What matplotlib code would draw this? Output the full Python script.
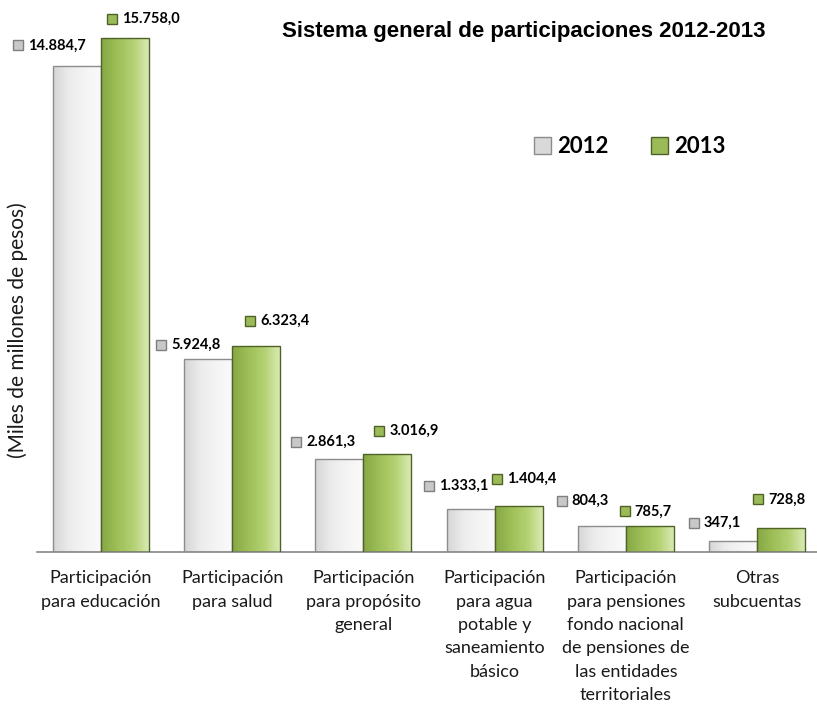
import numpy as np
import matplotlib
matplotlib.use("Agg")
import matplotlib.pyplot as plt
from matplotlib.colors import LinearSegmentedColormap
from matplotlib.patches import Patch
from matplotlib.transforms import offset_copy

# datos (miles de millones de pesos)
categorias = [
    "Participación\npara educación",
    "Participación\npara salud",
    "Participación\npara propósito\ngeneral",
    "Participación\npara agua\npotable y\nsaneamiento\nbásico",
    "Participación\npara pensiones\nfondo nacional\nde pensiones de\nlas entidades\nterritoriales",
    "Otras\nsubcuentas",
]
valores_2012 = [14884.7, 5924.8, 2861.3, 1333.1, 804.3, 347.1]
valores_2013 = [15758.0, 6323.4, 3016.9, 1404.4, 785.7, 728.8]
series = ["2012", "2013"]

# desplazamiento de las etiquetas (pixeles, desde la esquina sup. izq. de cada barra)
dx_2012 = [-35, -23, -19, -18, -16, -15]
dy_2012 = [21, 14, 17, 23, 25, 18]
dx_2013 = [11, 18, 16, 2, -1, 1]
dy_2013 = [19, 25, 23, 27, 15, 29]

font = "Lato"
gris_cmap = LinearSegmentedColormap.from_list("gris", ["#d6d6d6", "#ececec", "#f4f4f4", "#fafafa"])
verde_cmap = LinearSegmentedColormap.from_list("verde", ["#86a843", "#9ebf58", "#b4d173", "#dbebb6"])


def formato(v):
    s = f"{v:,.1f}"
    return s.replace(",", "X").replace(".", ",").replace("X", ".")


fig = plt.figure(figsize=(8.17, 7.06), dpi=100)
ax = fig.add_axes([0.0453, 0.218, 0.9547, 0.782])

x = np.arange(len(categorias))
w = 0.366
b1 = ax.bar(x - w / 2, valores_2012, w, color="#ececec", edgecolor="#8c8c8c", linewidth=1, zorder=2)
b2 = ax.bar(x + w / 2, valores_2013, w, color="#9bbb59", edgecolor="#4f6228", linewidth=1, zorder=2)

# degradado dentro de cada barra
grad = np.linspace(0, 1, 64).reshape(1, -1)
for bars, cmap in [(b1, gris_cmap), (b2, verde_cmap)]:
    for r in bars:
        x0, y0 = r.get_x(), r.get_y()
        im = ax.imshow(grad, extent=[x0, x0 + r.get_width(), y0, y0 + r.get_height()],
                       aspect="auto", cmap=cmap, zorder=2.5, interpolation="bilinear")
        im.set_clip_path(r)
        r.set_facecolor("none")
        r.set_zorder(3)

ax.set_xlim(-0.488, 5.457)
ax.set_ylim(0, 16923)

# etiquetas de valores con su cuadrito
for bars, vals, dxs, dys, fc, ec in [
    (b1, valores_2012, dx_2012, dy_2012, "#c8c8c8", "#7f7f7f"),
    (b2, valores_2013, dx_2013, dy_2013, "#9bbb59", "#4f6228"),
]:
    for r, v, dx, dy in zip(bars, vals, dxs, dys):
        bx, top = r.get_x(), r.get_height()
        tr_m = offset_copy(ax.transData, fig=fig, x=dx, y=dy, units="dots")
        ax.plot([bx], [top], marker="s", markersize=7, markerfacecolor=fc,
                markeredgecolor=ec, markeredgewidth=1, transform=tr_m, clip_on=False, zorder=4)
        tr_t = offset_copy(ax.transData, fig=fig, x=dx + 10, y=dy, units="dots")
        ax.text(bx, top, formato(v), transform=tr_t, ha="left", va="center",
                fontsize=10.5, fontweight="bold", family=font, color="#000000")

for s in ["left", "top", "right"]:
    ax.spines[s].set_visible(False)
ax.spines["bottom"].set_color("#868686")
ax.spines["bottom"].set_linewidth(1.2)
ax.set_yticks([])
ax.set_xticks(x)
ax.set_xticklabels(categorias, fontsize=13, family=font, linespacing=1.57, color="#1a1a1a")
ax.tick_params(axis="x", length=0, pad=13)

fig.text(0.641, 0.956, "Sistema general de participaciones 2012-2013", ha="center", va="center",
         fontsize=16, fontweight="bold", family="Liberation Sans")
fig.text(0.022, 0.533, "(Miles de millones de pesos)", rotation=90, ha="center", va="center",
         fontsize=15, family=font, color="#1a1a1a")

handles = [Patch(facecolor="#d9d9d9", edgecolor="#8c8c8c"),
           Patch(facecolor="#9bbb59", edgecolor="#4f6228")]
fig.legend(handles, series, loc="center", bbox_to_anchor=(0.771, 0.792), ncol=2, frameon=False,
           handlelength=0.75, handleheight=0.75, handletextpad=0.3, columnspacing=1.9,
           prop={"family": font, "weight": "bold", "size": 16})

fig.savefig("out.png", dpi=100)
